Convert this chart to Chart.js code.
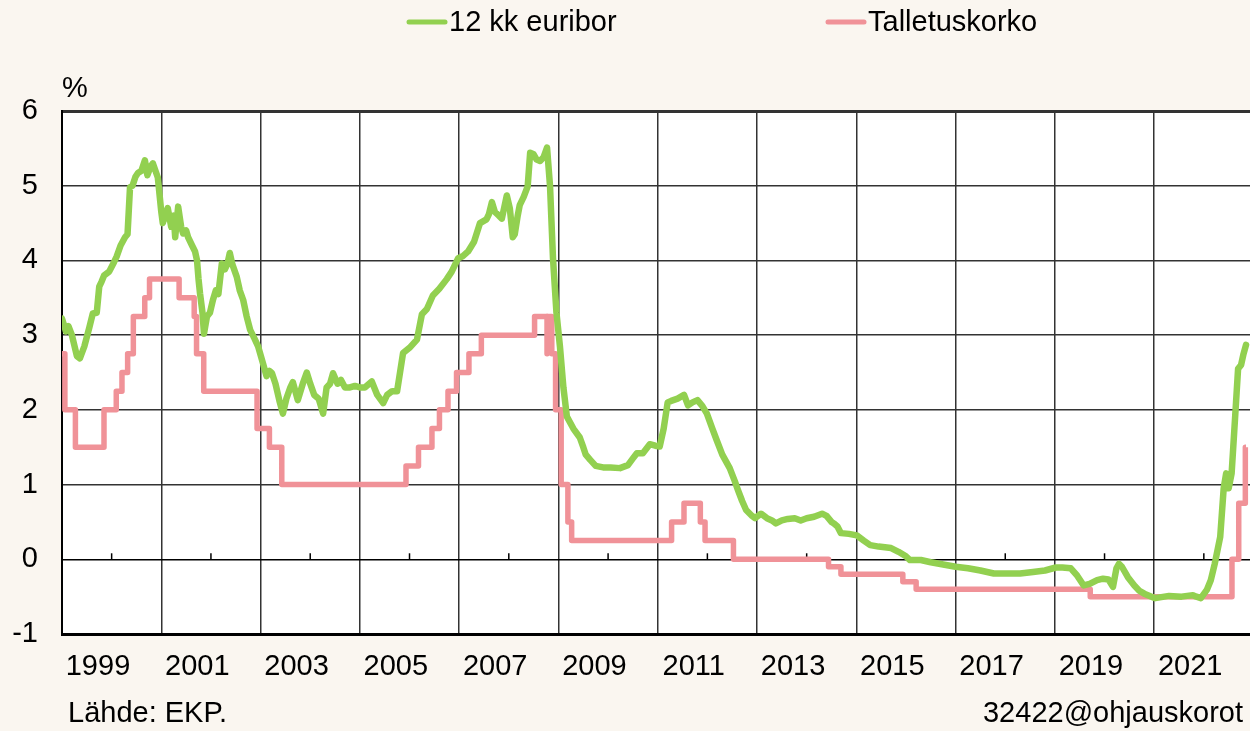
<!DOCTYPE html>
<html lang="fi">
<head>
<meta charset="UTF-8">
<title>12 kk euribor ja talletuskorko</title>
<script src="https://cdn.jsdelivr.net/npm/chart.js"></script>
<style>
  html, body { margin: 0; padding: 0; background: #faf6f0; }
  canvas { display: block; }
</style>
</head>
<body>
<canvas id="chart" width="1250" height="731"></canvas>
<script>
// 12 kk euribor (decimal years)
const euriborDates = [
  1999.00, 1999.08, 1999.13, 1999.20, 1999.30, 1999.36, 1999.45, 1999.55, 1999.62, 1999.70,
  1999.75, 1999.80, 1999.85, 1999.95, 2000.05, 2000.10, 2000.18, 2000.27, 2000.32, 2000.37,
  2000.42, 2000.48, 2000.53, 2000.60, 2000.67, 2000.72, 2000.78, 2000.83, 2000.93, 2001.00,
  2001.03, 2001.08, 2001.13, 2001.20, 2001.25, 2001.28, 2001.34, 2001.40, 2001.44, 2001.50,
  2001.54, 2001.62, 2001.68, 2001.72, 2001.75, 2001.78, 2001.83, 2001.86, 2001.92, 2001.98,
  2002.04, 2002.10, 2002.15, 2002.22, 2002.28, 2002.33, 2002.38, 2002.43, 2002.52, 2002.58,
  2002.65, 2002.72, 2002.79, 2002.88, 2002.95, 2003.05, 2003.12, 2003.18, 2003.23, 2003.30,
  2003.38, 2003.45, 2003.52, 2003.60, 2003.65, 2003.75, 2003.85, 2003.93, 2004.00, 2004.08,
  2004.17, 2004.26, 2004.33, 2004.40, 2004.46, 2004.55, 2004.62, 2004.70, 2004.80, 2004.90,
  2005.00, 2005.10, 2005.24, 2005.35, 2005.47, 2005.55, 2005.65, 2005.75, 2005.87, 2006.00,
  2006.15, 2006.25, 2006.35, 2006.47, 2006.60, 2006.75, 2006.85, 2006.98, 2007.08, 2007.18,
  2007.30, 2007.42, 2007.55, 2007.60, 2007.66, 2007.72, 2007.80, 2007.86, 2007.96, 2008.02,
  2008.08, 2008.12, 2008.18, 2008.22, 2008.30, 2008.38, 2008.43, 2008.50, 2008.56, 2008.63,
  2008.70, 2008.77, 2008.83, 2008.89, 2008.96, 2009.03, 2009.10, 2009.17, 2009.30, 2009.43,
  2009.50, 2009.55, 2009.64, 2009.75, 2009.90, 2010.05, 2010.24, 2010.40, 2010.50, 2010.58,
  2010.70, 2010.84, 2010.95, 2011.04, 2011.12, 2011.20, 2011.27, 2011.40, 2011.53, 2011.61,
  2011.70, 2011.80, 2011.90, 2011.99, 2012.10, 2012.19, 2012.30, 2012.45, 2012.55, 2012.62,
  2012.70, 2012.78, 2012.90, 2012.96, 2013.08, 2013.20, 2013.30, 2013.38, 2013.50, 2013.62,
  2013.76, 2013.88, 2014.00, 2014.15, 2014.31, 2014.40, 2014.50, 2014.55, 2014.62, 2014.69,
  2014.85, 2015.01, 2015.15, 2015.28, 2015.45, 2015.70, 2015.85, 2016.00, 2016.08, 2016.30,
  2016.50, 2016.75, 2017.00, 2017.25, 2017.50, 2017.77, 2018.00, 2018.30, 2018.56, 2018.80,
  2019.02, 2019.15, 2019.32, 2019.45, 2019.58, 2019.70, 2019.85, 2019.97, 2020.08, 2020.17,
  2020.24, 2020.29, 2020.35, 2020.47, 2020.60, 2020.70, 2020.80, 2021.02, 2021.30, 2021.55,
  2021.78, 2021.85, 2021.94, 2022.06, 2022.14, 2022.22, 2022.33, 2022.40, 2022.45, 2022.50,
  2022.56, 2022.63, 2022.69, 2022.75, 2022.80, 2022.85
];
const euriborValues = [
  3.22, 3.05, 3.12, 3.00, 2.72, 2.69, 2.85, 3.10, 3.29, 3.30,
  3.65, 3.72, 3.80, 3.85, 3.98, 4.05, 4.20, 4.31, 4.35, 4.98,
  5.00, 5.12, 5.17, 5.20, 5.34, 5.14, 5.25, 5.30, 5.11, 4.65,
  4.50, 4.60, 4.70, 4.45, 4.60, 4.31, 4.72, 4.45, 4.36, 4.40,
  4.31, 4.20, 4.12, 4.00, 3.75, 3.56, 3.30, 3.02, 3.25, 3.30,
  3.47, 3.60, 3.55, 3.96, 3.88, 3.95, 4.10, 3.95, 3.78, 3.60,
  3.47, 3.25, 3.07, 2.95, 2.85, 2.62, 2.45, 2.52, 2.49, 2.35,
  2.12, 1.95, 2.15, 2.30, 2.37, 2.13, 2.35, 2.50, 2.35, 2.20,
  2.15, 1.95, 2.30, 2.35, 2.49, 2.35, 2.40, 2.30, 2.30, 2.32,
  2.30, 2.30, 2.38, 2.20, 2.09, 2.20, 2.25, 2.25, 2.76, 2.83,
  2.94, 3.28, 3.35, 3.53, 3.62, 3.75, 3.85, 4.03, 4.06, 4.12,
  4.25, 4.50, 4.55, 4.62, 4.78, 4.65, 4.60, 4.56, 4.87, 4.70,
  4.31, 4.35, 4.60, 4.74, 4.85, 4.99, 5.44, 5.42, 5.35, 5.33,
  5.38, 5.51, 5.00, 4.03, 3.30, 2.85, 2.30, 1.91, 1.75, 1.63,
  1.50, 1.40, 1.33, 1.25, 1.23, 1.23, 1.22, 1.26, 1.35, 1.42,
  1.42, 1.54, 1.52, 1.51, 1.75, 2.10, 2.12, 2.15, 2.20, 2.06,
  2.10, 2.13, 2.05, 1.95, 1.75, 1.59, 1.40, 1.22, 1.05, 0.92,
  0.78, 0.66, 0.58, 0.55, 0.61, 0.55, 0.52, 0.48, 0.52, 0.54,
  0.55, 0.52, 0.55, 0.57, 0.61, 0.58, 0.50, 0.48, 0.44, 0.35,
  0.34, 0.32, 0.25, 0.19, 0.17, 0.15, 0.10, 0.04, -0.01, -0.01,
  -0.04, -0.07, -0.10, -0.12, -0.15, -0.19, -0.19, -0.19, -0.17, -0.15,
  -0.11, -0.11, -0.12, -0.22, -0.35, -0.33, -0.28, -0.26, -0.27, -0.37,
  -0.12, -0.06, -0.10, -0.24, -0.35, -0.42, -0.46, -0.52, -0.49, -0.50,
  -0.48, -0.50, -0.52, -0.41, -0.28, -0.06, 0.30, 0.95, 1.15, 0.95,
  1.15, 1.90, 2.55, 2.60, 2.75, 2.87
];

// EKP:n talletuskorko, change dates and new rate
const depositDates = [
  1999.00, 1999.058, 1999.27, 1999.846, 2000.093, 2000.208, 2000.322, 2000.437, 2000.667, 2000.763,
  2001.359, 2001.663, 2001.71, 2001.855, 2002.929, 2003.178, 2003.427, 2005.929, 2006.181, 2006.452,
  2006.603, 2006.775, 2006.947, 2007.197, 2007.447, 2008.519, 2008.77, 2008.773, 2008.866, 2008.942,
  2009.055, 2009.19, 2009.266, 2011.279, 2011.529, 2011.858, 2011.953, 2012.525, 2014.44, 2014.69,
  2015.937, 2016.205, 2019.712, 2022.567, 2022.703, 2022.836, 2022.85
];
const depositRates = [
  2.75, 2.00, 1.50, 2.00, 2.25, 2.50, 2.75, 3.25, 3.50, 3.75,
  3.50, 3.25, 2.75, 2.25, 1.75, 1.50, 1.00, 1.25, 1.50, 1.75,
  2.00, 2.25, 2.50, 2.75, 3.00, 3.25, 2.75, 3.25, 2.75, 2.00,
  1.00, 0.50, 0.25, 0.50, 0.75, 0.50, 0.25, 0.00, -0.10, -0.20,
  -0.30, -0.40, -0.50, 0.00, 0.75, 1.50, 1.50
];

const yearTicks = [1999, 2001, 2003, 2005, 2007, 2009, 2011, 2013, 2015, 2017, 2019, 2021];
const minorYears = [2000, 2002, 2004, 2006, 2008, 2010, 2012, 2014, 2016, 2018, 2020, 2022];

const toPoints = (xs, ys) => xs.map((x, i) => ({ x: x, y: ys[i] }));

const FONT = '"Liberation Sans", Arial, sans-serif';
Chart.defaults.font.family = FONT;
Chart.defaults.color = '#000';

const overlay = {
  id: 'overlay',
  beforeDraw(chart) {
    const { ctx, chartArea: a } = chart;
    ctx.save();
    ctx.fillStyle = '#faf6f0';
    ctx.fillRect(0, 0, chart.width, chart.height);
    ctx.fillStyle = '#ffffff';
    ctx.fillRect(a.left, a.top, a.right - a.left, a.bottom - a.top);
    ctx.restore();
  },
  beforeDatasetsDraw(chart) {
    // small year marks on the zero line
    const { ctx, scales: { x, y } } = chart;
    const y0 = y.getPixelForValue(0);
    ctx.save();
    ctx.strokeStyle = '#000';
    ctx.lineWidth = 1.5;
    minorYears.forEach(v => {
      const px = x.getPixelForValue(v);
      ctx.beginPath();
      ctx.moveTo(px, y0);
      ctx.lineTo(px, y0 - 6);
      ctx.stroke();
    });
    ctx.restore();
  },
  afterDraw(chart) {
    const ctx = chart.ctx;
    const legendX = [407, 826];
    ctx.save();
    ctx.font = '29px ' + FONT;
    ctx.fillStyle = '#000';
    ctx.textBaseline = 'middle';
    chart.data.datasets.forEach((ds, i) => {
      const lx = legendX[i];
      ctx.strokeStyle = ds.borderColor;
      ctx.lineWidth = 5;
      ctx.lineCap = 'round';
      ctx.beginPath();
      ctx.moveTo(lx + 2, 22);
      ctx.lineTo(lx + 38, 22);
      ctx.stroke();
      ctx.textAlign = 'left';
      ctx.fillText(ds.label, lx + 42, 23);
    });
    ctx.fillText('%', 62, 89);
    ctx.fillText('Lähde: EKP.', 68, 714);
    ctx.textAlign = 'right';
    ctx.fillText('32422@ohjauskorot', 1243, 714);
    ctx.restore();
  }
};

new Chart(document.getElementById('chart'), {
  type: 'line',
  data: {
    datasets: [
      {
        label: '12 kk euribor',
        data: toPoints(euriborDates, euriborValues),
        borderColor: '#92d050',
        borderWidth: 6.5,
        borderJoinStyle: 'round',
        borderCapStyle: 'round',
        pointRadius: 0,
        tension: 0
      },
      {
        label: 'Talletuskorko',
        data: toPoints(depositDates, depositRates),
        borderColor: '#f09298',
        borderWidth: 5.5,
        borderJoinStyle: 'round',
        stepped: true,
        pointRadius: 0
      }
    ]
  },
  options: {
    responsive: false,
    animation: false,
    layout: { padding: { top: 111, left: 0, right: 0, bottom: 0 } },
    plugins: {
      legend: { display: false },
      tooltip: { enabled: false }
    },
    scales: {
      x: {
        type: 'linear',
        min: 1999,
        max: 2022.93,
        afterBuildTicks: s => { s.ticks = yearTicks.map(v => ({ value: v })); },
        afterFit: s => { s.height = 97; },
        ticks: {
          callback: v => String(v),
          labelOffset: 36,
          padding: 16,
          autoSkip: false,
          maxRotation: 0,
          font: { size: 29 }
        },
        grid: { color: '#333', lineWidth: 1.5, drawTicks: false },
        border: { color: '#000', width: 3 }
      },
      y: {
        min: -1,
        max: 6,
        afterFit: s => { s.width = 62; },
        ticks: { stepSize: 1, padding: 24, font: { size: 29 } },
        grid: {
          color: ctx => (ctx.tick && ctx.tick.value === 0 ? '#000' : '#333'),
          lineWidth: ctx => (ctx.tick && ctx.tick.value === 6 ? 3 : 1.5),
          drawTicks: false
        },
        border: { color: '#000', width: 2 }
      }
    }
  },
  plugins: [overlay]
});
</script>
</body>
</html>
